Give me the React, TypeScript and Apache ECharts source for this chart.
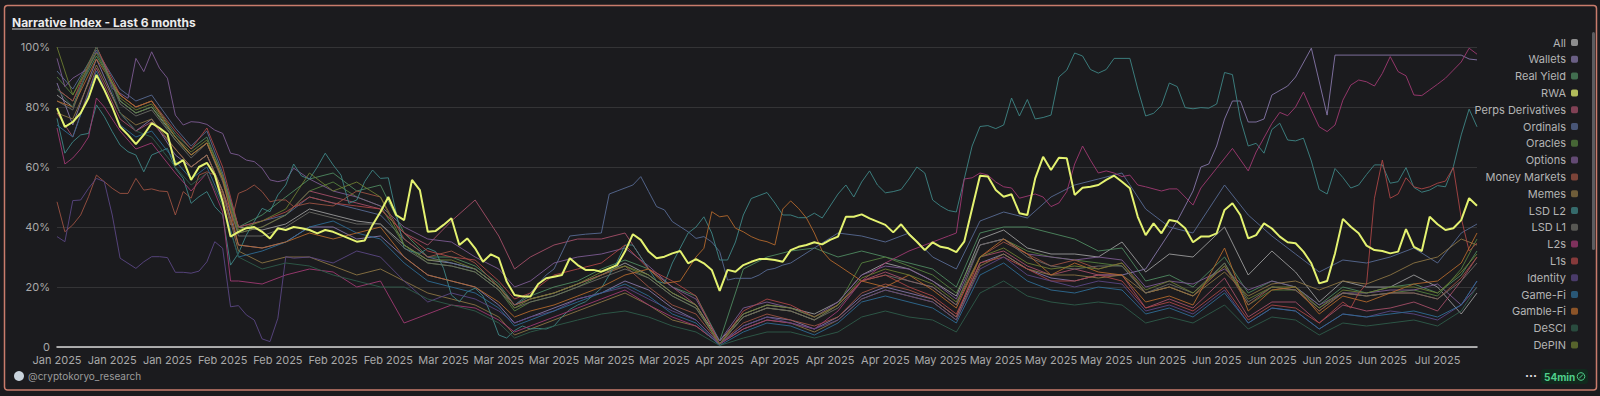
import React, { useEffect, useRef } from "react";
import * as echarts from "echarts";

// ---------- categories (daily, labels every 7 days) ----------
const START = "2025-01-12";
const N_DAYS = 181;
const MONTHS = ["Jan","Feb","Mar","Apr","May","Jun","Jul","Aug","Sep","Oct","Nov","Dec"];
const dates: string[] = [];
{
  const d0 = new Date(START + "T00:00:00Z");
  for (let i = 0; i < N_DAYS; i++) {
    const d = new Date(d0.getTime() + i * 86400000);
    dates.push(d.toISOString().slice(0, 10));
  }
}
const yTicks = [0, 20, 40, 60, 80, 100];

// ---------- legend names ----------
const names = [
  "All","Wallets","Real Yield","RWA","Perps Derivatives","Ordinals","Oracles","Options",
  "Money Markets","Memes","LSD L2","LSD L1","L2s","L1s","Identity","Game-Fi","Gamble-Fi","DeSCI","DePIN",
];
const colors = [
  "#b4b4b4","#8677a8","#4f8a60","#e4f270","#a44f68","#586a94","#55803f","#7c5b92",
  "#9c5242","#8c7444","#3f8686","#6c6c66","#a03a72","#ab4646","#5b4784","#2f6c94","#b3682c","#2f5c4a","#6c7c32",
];

// ---------- daily series ----------
const rwa = [79.6,73.4,75,78,83,90.7,85.7,80,73.4,70.7, 67.6,70.7,74.6,73,71,60.7,62.3,55.7,60,61.4,
  57.3,48.4,36.8,38.4,39.6,40,38.4,36.2,39.6,39, 40,39.6,39,37.9,39,38.4,37.3,36.2,35.1,35.5,
  40.7,45,50,44,42.3,55.7,52.3,38.4,38.7,40.7, 42.9,34,36.2,32.9,28.4,30.9,29.6,21.8,17.3,16.8,
  16.8,21,22.9,23.4,24,29.6,27.3,25.7,25.7,25.1, 26.2,27.3,31.8,37.6,35.7,31.8,29.6,30.1,31.2,32,
  27.9,29.3,27.9,25.7,18.7,25.7,25.1,27.3,28.4,29.3, 29.3,29,28.4,32.3,33.4,34,34.9,34.2,35.7,36.8,
  43.4,43.4,44.2,42.9,41.8,40.7,38.2,40.9,37.6,35.1, 32.3,34.9,33.4,32.9,31.6,35.1,46.2,57.1,56.8,52.3,
  50.1,50.9,44.6,44,56.2,63.4,59,63.1,62.9,50.7, 53.1,53.4,54,55.7,57.1,55.1,52.9,43.4,37.3,41.2,
  37.9,42.3,41.8,39.6,34.9,36.8,36.8,37.9,45.7,47.9, 44,36.2,37.3,41.2,39.5,36.8,34.9,34.6,31.8,27.9,
  21.2,22,31.2,42.7,40.1,37.9,33.8,32.3,32,31.2, 31.8,39.3,33.4,32,43.4,40.9,39,39.6,42.3,49.6, 47.1];

const lsdL2 = [76.2,64.6,68.4,70.7,71.2,80.7,76.8,71.8,67.3,65.1, 64,58.4,64,65.1,66.2,59.6,56.2,47.9,50.1,51.8,
  46.8,44,27.3,31.2,37.3,41.8,46.2,45.1,50.7,54, 61,57,56,60,64.6,60.7,57.3,47.9,49,55.1,
  59,56.2,56.4,44.6,32.9,31.8,31.2,32.9,31.8,26.2, 17.3,15.1,18.4,19.6,17,11,4,3,5.5,7,
  6,6.2,6,7,10,12.5,14,15.1,17.3,19.6, 24,28.4,34,34,30,26,22,21.2,28,33,
  38,40,43.4,38,29,29,35,44,49.5,50.5, 51.5,48,44,44,43.1,43.1,44.6,43,47,51,
  54,50,55,58.7,54,51.4,51.8,52.5,56,60, 58,49,47,45.5,45,56,67,73.5,73.8,72.8,
  74,83,77,82.5,76,76.5,77.3,90,92.3,98, 97,92.5,91.3,92.5,96.2,96.2,96.2,86,77,77.9,
  80.5,88,86.8,79.8,79.4,79.8,79.6,81,91.5,90.8, 76,67,67.9,64.6,72.5,74.6,69,68.7,69.6,62,
  52.5,51,59.5,56.5,53,54,57.5,60.7,60.7,54.6, 55.1,59.8,53.2,51.6,52.3,53.8,53.4,60.1,70.7,79.3, 73.4];

// ---------- series sampled on shared key days ----------
const keyDays = [0,2,5,8,10,12,15,17,19,21, 23,26,29,32,35,38,41,44,47,50, 53,56,58,60,63,66,69,72,75,78,
  81,84,87,90,93,96,99,102,105,108, 111,114,117,120,123,126,129,132,135,138, 141,144,148,151,154,157,160,163,166,169,
  172,175,178,180];

const allIdx = [84,80,100,82,78,80,70,64,68,56, 40,39,41,46,44,42,41,34,29,28, 26,20,14,16,18,21,24,28,24,18,
  14,2,11,14,13,11,15,24,28,26, 22,17,36,39,33,31,31,30,35,25, 31,30,40,24,32,25,15,22,20,20, 24,20,11,18];
const realYield = [86,82,97,84,80,82,71,66,70,57, 40,44,50,56,58,52,54,38,30,30, 27,21,14,17,20,22,26,29,26,20,
  17,2,26,30,32,33,30,32,30,28, 26,20,38,40,40,38,36,32,33,22, 24,20,30,18,22,20,14,20,18,20, 21,18,24,32];
const perps = [78,70,93,76,72,75,66,60,64,52, 38,40,44,52,50,48,46,38,34,42, 49,37,26,30,34,36,36,38,26,20,
  14,1,10,13,12,9,14,22,25,22, 20,14,30,32,27,24,26,24,24,13, 16,13,23,10,15,15,8,14,12,13, 15,12,22,30];
const oracles = [90,84,100,82,78,80,69,64,68,56, 38,40,44,52,55,50,47,34,28,27, 25,19,12,15,17,20,24,27,23,17,
  13,1,10,13,12,9,14,28,30,27, 24,18,34,36,32,30,29,28,27,18, 20,17,28,14,19,19,12,18,17,18, 19,17,26,36];
const memes = [78,76,94,78,74,76,66,60,64,52, 32,28,30,30,27,24,26,22,18,16, 14,10,4,6,9,12,15,18,14,9,
  7,1,6,9,8,5,9,16,19,17, 15,9,27,31,26,24,24,23,24,18, 20,17,25,17,21,22,19,22,21,24, 28,30,36,34];
const lsdL1 = [82,79,100,81,77,79,69,63,68,55, 37,37,40,45,43,41,41,33,28,27, 25,19,13,15,17,20,23,26,23,17,
  13,1,10,13,12,9,13,22,24,22, 20,14,34,36,30,27,26,27,27,18, 21,18,28,15,20,19,13,18,17,18, 18,16,22,28];
const gameFi = [74,70,92,74,70,72,62,56,60,48, 30,32,35,40,42,38,36,28,22,20, 18,13,7,9,12,15,18,21,17,11,
  8,0.5,5,8,7,4,8,15,17,15, 13,8,24,28,22,19,18,20,19,11, 13,10,18,8,13,12,6,11,10,11, 12,10,14,22];
const deSci = [86,80,100,78,72,70,60,54,58,47, 30,26,28,27,24,22,20,20,16,14, 12,8,3,5,7,9,11,12,10,7,
  5,0.5,3,5,5,3,5,10,12,10, 9,5,18,22,17,15,14,15,14,8, 10,8,14,6,10,9,4,8,7,8, 9,7,12,20];
const dePin = [100,84,98,83,79,81,70,65,69,57, 39,42,46,58,52,55,50,34,29,29, 26,20,13,16,18,21,25,27,24,18,
  14,1,11,14,13,10,14,23,26,24, 21,15,30,33,28,26,27,26,28,19, 22,18,27,16,20,20,13,19,18,20, 20,18,25,31];

// ---------- series given as [day, value] vertices ----------
const wallets = [[0,88],[2,74],[5,96],[8,78],[10,72],[12,76],[15,64],[17,60],[19,64],[21,52],[23,34],[26,33],[29,35],
  [32,40],[35,40],[38,36],[41,37],[44,30],[47,24],[50,22],[53,20],[56,14],[58,8],[60,10],[63,13],[66,16],[69,18],
  [72,22],[75,19],[78,13],[81,9],[84,1],[87,7],[90,10],[93,9],[96,6],[99,10],[102,17],[105,20],[108,18],[111,16],
  [114,10],[117,28],[120,31],[123,26],[126,23],[129,22],[132,24],[135,24],[138,26],[140,34],[142,42],[144,52],
  [145,60],[146,61],[147,67],[148,76],[149,82],[150,82],[151,75],[152,75],[153,76],[154,84],[156,87],[157,90],
  [159,99.6],[161,77.3],[162,97.3],[178,97.3],[179,96],[180,95.7]];
const l2s = [[0,73],[1,61],[2,63],[3,66],[4,70],[5,83],[6,80],[8,72],[10,66],[12,68],[15,58],[17,52],[19,58],[21,45],
  [22,22],[23,22],[26,21],[29,24],[32,26],[35,25],[38,20],[41,22],[44,8],[47,11],[50,14],[53,13],[56,9],[58,5],
  [60,7],[63,10],[66,13],[69,16],[72,19],[75,14],[78,10],[81,7],[84,1],[87,6],[90,9],[93,8],[96,6],[99,12],
  [102,22],[105,28],[108,32],[111,35],[113,37],[114,38],[115,56],[116,56.4],[117,58],[118,57.3],[119,55],[120,53.4],
  [121,53],[122,49.6],[124,51],[125,50],[126,46.8],[127,48],[128,51.8],[129,61],[130,67],[131,62.3],[132,58],
  [133,58.7],[134,58],[135,56.8],[136,57.3],[137,54],[138,53.4],[140,52],[141,52.7],[142,52.7],[143,50],[144,47.3],
  [145,53],[147,59.6],[149,66.2],[151,58.7],[152,65],[154,74.5],[155,78.2],[156,77.1],[157,80],[158,85],[159,79],
  [160,73.4],[161,71.8],[162,74],[163,82.3],[164,87.3],[165,89],[166,88.4],[167,87],[168,91.2],[169,96.8],
  [170,91.8],[171,90.4],[172,84],[173,83.8],[174,85.7],[175,87.6],[176,89.6],[177,92.3],[178,95],[179,99.6],[180,97.6]];
const l1s = [[0,86],[2,82],[5,100],[8,84],[10,80],[12,82],[15,72],[17,66],[19,73],[21,60],[23,40],[26,42],[29,45],
  [32,50],[35,48],[38,47],[41,46],[44,38],[47,32],[50,30],[53,29],[56,22],[58,16],[60,18],[63,24],[66,26],[69,28],
  [72,34],[75,26],[78,22],[81,17],[84,1],[87,12],[90,16],[93,14],[96,10],[99,14],[102,22],[105,24],[108,20],
  [111,17],[114,11],[117,28],[120,30],[123,26],[126,22],[129,22],[132,24],[135,22],[138,13],[141,15],[144,12],
  [148,20],[151,9],[154,14],[157,13],[160,8],[163,15],[164,13],[165,18],[166,21],[167,49.6],[168,62.3],[169,49.6],
  [170,51],[171,56.4],[172,53.4],[173,52.7],[174,53.4],[175,54.6],[176,55.3],[177,59.8],[178,43],[179,32],[180,34.6]];
const moneyMarkets = [[0,48.4],[1,38.4],[2,40.7],[3,44],[4,50.1],[5,57.3],[6,55.1],[7,52.9],[8,51.2],[9,51.2],
  [10,56.2],[11,52.3],[12,52.7],[13,52],[14,51.8],[15,44],[16,51.8],[17,49.6],[18,57.3],[19,58.4],[20,57.3],
  [21,50.7],[22,40.7],[23,51.2],[24,52.3],[25,54],[26,51.8],[27,48.4],[28,49],[29,49],[30,46.8],[32,48],[35,47],
  [38,52],[41,50],[44,36],[47,30],[50,32],[53,28],[56,20],[58,14],[60,16],[63,18],[66,21],[69,24],[72,27],[75,20],
  [78,14],[81,11],[84,1],[87,8],[90,11],[93,9],[96,7],[99,10],[102,18],[105,21],[108,19],[111,16],[114,10],
  [117,30],[120,35],[123,31],[126,27],[129,29],[132,26],[135,28],[138,18],[141,20],[144,17],[148,27],[151,14],
  [154,20],[157,19],[160,12],[163,18],[166,17],[169,18],[172,18],[175,16],[178,23],[180,30]];
const identity = [[0,36.8],[1,35.1],[2,48.8],[3,49],[4,52.9],[5,56.2],[6,55.1],[7,44],[8,29.6],[9,27.9],[10,26.2],
  [11,28.4],[12,30.1],[13,30.1],[14,29.8],[15,24.9],[16,24.9],[17,24.6],[18,25.3],[19,28.4],[20,35.1],[21,32.9],
  [22,13.4],[23,13.8],[24,10.7],[25,9],[26,2.7],[27,1.8],[28,9.6],[29,30.1],[30,29.6],[32,30],[35,28],[38,32],
  [41,30],[44,22],[47,15],[50,18],[53,16],[56,12],[58,8],[60,10],[63,12],[66,16],[69,18],[72,20],[75,16],[78,12],
  [81,9],[84,1],[87,7],[90,10],[93,8],[96,6],[99,9],[102,16],[105,19],[108,17],[111,15],[114,9],[117,26],[120,30],
  [123,24],[126,22],[129,20],[132,22],[135,21],[138,12],[141,14],[144,11],[148,19],[151,8],[154,13],[157,12],
  [160,6],[163,11],[166,10],[169,12],[172,11],[175,9],[178,14],[180,22]];
const options = [[0,96.2],[1,86.8],[2,89.6],[3,91.2],[4,92.9],[5,98.4],[6,94.6],[7,86.2],[8,84.6],[9,82.9],
  [10,96.2],[11,91.8],[12,98.4],[13,92.9],[14,89.6],[15,77.3],[16,74],[17,75.1],[18,74.9],[19,74.2],[20,72.3],
  [21,71.2],[22,64.6],[23,64],[24,62.3],[25,61.8],[26,59.6],[27,55.7],[28,55.1],[29,55.7],[30,59.6],[32,56],[35,52],
  [38,50],[41,47],[44,40],[47,36],[50,35],[53,30],[56,26],[58,20],[60,22],[63,28],[66,30],[69,31],[72,33],[75,27],
  [78,20],[81,16],[84,2],[87,13],[90,15],[93,13],[96,10],[99,15],[102,24],[105,27],[108,26],[111,22],[114,16],
  [117,34],[120,36],[123,31],[126,30],[129,29],[132,30],[135,29],[138,20],[141,22],[144,21],[148,26],[151,19],
  [154,22],[157,20],[160,14],[163,18],[166,18],[169,19],[172,19],[175,21],[178,14],[180,20]];
const ordinals = [[0,92],[2,86],[5,99],[8,86],[10,82],[12,84],[15,73],[17,67],[19,72],[21,58],[23,40],[26,42],[29,44],
  [32,50],[35,48],[38,46],[41,44],[44,36],[47,30],[50,28],[53,26],[56,20],[58,14],[60,18],[62,24],[63,26],[65,37],
  [67,37.6],[69,38],[70,51],[71,52],[72,53],[73,54],[74,56.8],[75,51.8],[76,46.8],[77,45.7],[78,41.8],[79,40.1],
  [80,38.4],[81,36.2],[82,36.8],[83,35],[84,31.8],[85,22.3],[86,22.9],[88,22.9],[89,24],[90,25.7],[91,26.2],
  [92,27.3],[93,28],[96,33],[99,38],[102,37],[105,35],[108,38],[111,30],[114,26],[117,42],[120,45],[123,43],
  [126,50],[129,54],[132,56],[135,58],[138,46],[141,40],[144,38],[148,54],[151,44],[154,37],[157,31],[160,25],
  [163,29],[166,28],[169,30],[172,33],[175,28],[178,38],[180,41]];
const gambleFi = [[0,82],[2,80],[5,96],[8,84],[10,80],[12,82],[15,70],[17,64],[19,68],[21,56],[23,34],[26,33],[29,35],
  [32,38],[35,36],[38,38],[41,40],[44,30],[47,24],[50,22],[53,20],[56,15],[58,10],[60,12],[63,14],[66,17],[69,20],
  [72,24],[75,26],[77,21.2],[79,22],[81,30],[82,32.9],[83,45.1],[84,43.4],[85,43.8],[86,39.6],[87,38.4],[88,36.8],
  [89,35.7],[90,35.1],[91,34],[92,46],[93,48.7],[94,46.2],[95,43],[96,38],[97,32],[98,29],[99,27.3],[102,22],
  [105,20],[108,24],[111,19],[114,13],[117,30],[120,36],[123,31],[126,24],[129,28],[132,25],[135,24],[138,15],
  [141,17],[144,14],[148,33],[151,12],[154,19],[157,20],[160,11],[163,17],[166,15],[169,18],[172,21],[175,22],
  [178,28],[180,38]];

const onKeys = (vals: number[]) => vals.map((v, j) => [keyDays[j], v]);

const seriesData: Record<string, any[]> = {
  "All": onKeys(allIdx),
  "Wallets": wallets,
  "Real Yield": onKeys(realYield),
  "RWA": rwa,
  "Perps Derivatives": onKeys(perps),
  "Ordinals": ordinals,
  "Oracles": onKeys(oracles),
  "Options": options,
  "Money Markets": moneyMarkets,
  "Memes": onKeys(memes),
  "LSD L2": lsdL2,
  "LSD L1": onKeys(lsdL1),
  "L2s": l2s,
  "L1s": l1s,
  "Identity": identity,
  "Game-Fi": onKeys(gameFi),
  "Gamble-Fi": gambleFi,
  "DeSCI": onKeys(deSci),
  "DePIN": onKeys(dePin),
};

const FONT = 'Inter, "Noto Sans", sans-serif';

export default function App() {
  const ref = useRef<HTMLDivElement>(null);
  useEffect(() => {
    const chart = echarts.init(ref.current!, undefined, { renderer: "svg" });
    const series = names.map((n, k) => ({
      name: n,
      type: "line",
      data: seriesData[n],
      showSymbol: false,
      symbol: "none",
      z: n === "RWA" ? 5 : 2,
      lineStyle: { width: n === "RWA" ? 2 : 1, color: colors[k], opacity: n === "RWA" ? 1 : n === "All" ? 0.75 : 0.9 },
      itemStyle: { color: colors[k] },
      emphasis: { disabled: true },
    }));
    chart.setOption({
      animation: false,
      backgroundColor: "#1b1b1e",
      color: colors,
      textStyle: { fontFamily: FONT },
      grid: { left: 57, right: 123, top: 47, bottom: 49, containLabel: false },
      xAxis: {
        type: "category",
        data: dates,
        boundaryGap: false,
        axisLine: { show: true, lineStyle: { color: "#d6d6d6", width: 1.5 } },
        axisTick: { show: false },
        splitLine: { show: false },
        axisLabel: {
          interval: 6,
          color: "#a9a9a9",
          fontSize: 11,
          fontFamily: FONT,
          margin: 7,
          formatter: (v: string) => MONTHS[parseInt(v.slice(5, 7), 10) - 1] + " " + v.slice(0, 4),
        },
      },
      yAxis: {
        type: "value",
        min: yTicks[0],
        max: yTicks[yTicks.length - 1],
        interval: 20,
        axisLine: { show: false },
        axisTick: { show: false },
        splitLine: { lineStyle: { color: "#343436", width: 1 } },
        axisLabel: {
          color: "#a9a9a9",
          fontSize: 11,
          fontFamily: FONT,
          margin: 7,
          formatter: (v: number) => (v === 0 ? "0" : v + "%"),
        },
      },
      legend: {
        data: names,
        orient: "vertical",
        right: 17,
        top: 31,
        align: "right",
        icon: "roundRect",
        itemWidth: 7,
        itemHeight: 7,
        itemGap: 3.8,
        selectedMode: false,
        itemStyle: { opacity: 0.75 },
        textStyle: { color: "#b4b4b4", fontSize: 11, lineHeight: 13, fontFamily: FONT, padding: [0, 0, 0, 0] },
      },
      graphic: [
        {
          type: "rect",
          shape: { x: 4.5, y: 5.5, width: 1592, height: 384.5, r: 3 },
          style: { fill: "none", stroke: "#c97c6c", lineWidth: 1.5 },
          silent: true,
        },
        {
          type: "text",
          x: 12,
          y: 22,
          style: {
            text: "Narrative Index - Last 6 months",
            fill: "#ececec",
            font: 'bold 12px Inter, "Noto Sans", sans-serif',
            verticalAlign: "middle",
          },
        },
        {
          type: "line",
          shape: { x1: 12, y1: 29, x2: 187, y2: 29 },
          style: { stroke: "#cfcfcf", lineWidth: 1 },
        },
        {
          type: "rect",
          shape: { x: 1592, y: 32, width: 3, height: 218, r: 1.5 },
          style: { fill: "#5c5c60" },
        },
        {
          type: "circle",
          shape: { cx: 19, cy: 376, r: 5 },
          style: { fill: "#c9d3dc" },
        },
        {
          type: "text",
          x: 28,
          y: 376,
          style: {
            text: "@cryptokoryo_research",
            fill: "#9c9c9c",
            font: '10px Inter, "Noto Sans", sans-serif',
            verticalAlign: "middle",
          },
        },
        {
          type: "text",
          x: 1531,
          y: 375,
          style: {
            text: "···",
            fill: "#e0e0e0",
            font: 'bold 12px Inter, "Noto Sans", sans-serif',
            align: "center",
            verticalAlign: "middle",
          },
        },
        {
          type: "rect",
          shape: { x: 1541, y: 369, width: 47, height: 15, r: 3 },
          style: { fill: "#11291d" },
        },
        {
          type: "text",
          x: 1544,
          y: 376.5,
          style: {
            text: "54min",
            fill: "#4fd08b",
            font: 'bold 10px Inter, "Noto Sans", sans-serif',
            verticalAlign: "middle",
          },
        },
        {
          type: "circle",
          shape: { cx: 1581, cy: 376.5, r: 3.8 },
          style: { fill: "none", stroke: "#4fd08b", lineWidth: 1 },
        },
        {
          type: "line",
          shape: { x1: 1579, y1: 378.5, x2: 1583, y2: 374.5 },
          style: { stroke: "#4fd08b", lineWidth: 1 },
        },
      ],
      series,
    });
    return () => chart.dispose();
  }, []);
  return (
    <div
      ref={ref}
      style={{ position: "fixed", left: 0, top: 0, width: 1600, height: 396, background: "#1b1b1e" }}
    />
  );
}
